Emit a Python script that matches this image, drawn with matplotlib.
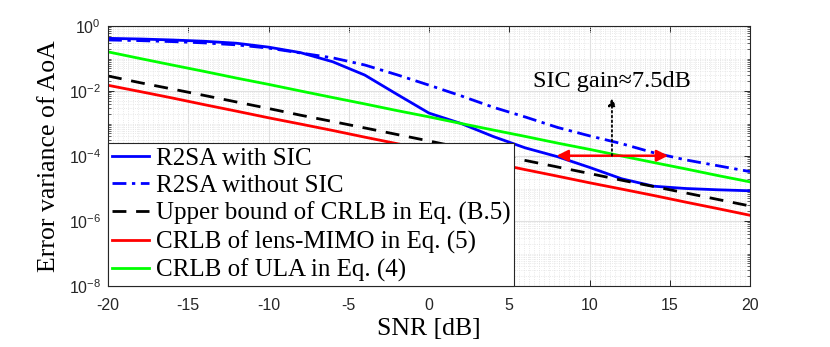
import numpy as np
import matplotlib
matplotlib.use("Agg")
import matplotlib.pyplot as plt
from matplotlib.ticker import FixedLocator, LogLocator, MultipleLocator, NullFormatter

plt.rcParams['font.family'] = 'Liberation Sans'
plt.rcParams['axes.unicode_minus'] = False

# SNR points [dB]
snr = [-20, -18, -16, -14, -12, -10, -8, -6, -4, -2, 0,
       2, 4, 6, 8, 10, 12, 14, 16, 18, 20]

# error variance (log10 values for the simulated curves)
log_sic = [-0.38, -0.40, -0.43, -0.47, -0.53, -0.65, -0.82, -1.10, -1.51, -2.10, -2.68,
           -3.00, -3.40, -3.75, -4.02, -4.35, -4.70, -4.93, -5.00, -5.04, -5.07]
log_nosic = [-0.43, -0.45, -0.48, -0.52, -0.58, -0.68, -0.83, -0.98, -1.20, -1.50, -1.82,
             -2.15, -2.50, -2.80, -3.12, -3.38, -3.62, -3.90, -4.12, -4.30, -4.48]
crlb_upper = [2.9e-2, 1.8e-2, 1.15e-2, 7.3e-3, 4.6e-3, 2.9e-3, 1.8e-3, 1.15e-3, 7.3e-4, 4.6e-4, 2.9e-4,
              1.8e-4, 1.15e-4, 7.3e-5, 4.6e-5, 2.9e-5, 1.8e-5, 1.15e-5, 7.3e-6, 4.6e-6, 2.9e-6]
crlb_lens = [1.5e-2, 9.6e-3, 6.1e-3, 3.8e-3, 2.4e-3, 1.5e-3, 9.6e-4, 6.1e-4, 3.8e-4, 2.4e-4, 1.5e-4,
             9.6e-5, 6.1e-5, 3.8e-5, 2.4e-5, 1.5e-5, 9.6e-6, 6.1e-6, 3.8e-6, 2.4e-6, 1.5e-6]
crlb_ula = [0.16, 0.10, 0.063, 0.040, 0.025, 0.016, 0.010, 6.3e-3, 4.0e-3, 2.5e-3, 1.6e-3,
            1.0e-3, 6.3e-4, 4.0e-4, 2.5e-4, 1.6e-4, 1.0e-4, 6.3e-5, 4.0e-5, 2.5e-5, 1.6e-5]

labels = ['R2SA with SIC', 'R2SA without SIC', 'Upper bound of CRLB in Eq. (B.5)',
          'CRLB of lens-MIMO in Eq. (5)', 'CRLB of ULA in Eq. (4)']

# annotation: SIC gain
gain_x0, gain_x1, gain_y = 7.95, 14.9, 1.02e-4
gain_text = 'SIC gain≈7.5dB'

fig = plt.figure(figsize=(8.3, 3.47), dpi=100)
ax = fig.add_axes([108/830, 61/347, 642/830, 260/347])

lw = 2.0
ax.plot(snr, 10**np.array(log_sic), color='#0000FF', lw=lw, label=labels[0])
ax.plot(snr, 10**np.array(log_nosic), color='#0000FF', lw=lw, ls=(0, (5, 2, 1.2, 2)), label=labels[1])
ax.plot(snr, crlb_upper, color='black', lw=lw, ls=(0, (5, 3.5)), label=labels[2])
ax.plot(snr, crlb_lens, color='#FF0000', lw=lw, label=labels[3])
ax.plot(snr, crlb_ula, color='#00FF00', lw=lw, label=labels[4])

ax.set_yscale('log')
ax.set_xlim(-20, 20)
ax.set_ylim(1e-8, 1)

ax.xaxis.set_major_locator(MultipleLocator(5))
ax.xaxis.set_minor_locator(MultipleLocator(5/16))
ax.yaxis.set_major_locator(FixedLocator([1e-8, 1e-6, 1e-4, 1e-2, 1]))
ax.yaxis.set_minor_locator(LogLocator(base=10, subs=np.arange(1, 10), numticks=30))
ax.yaxis.set_minor_formatter(NullFormatter())
ax.set_yticklabels([r'$\mathregular{10^{%d}}$' % e for e in [-8, -6, -4, -2, 0]])

ax.grid(which='major', color='#e0e0e0', lw=0.8, ls='-')
ax.grid(which='minor', color='#e2e2e2', lw=0.6, ls=':')
ax.set_axisbelow(True)
ax.tick_params(which='both', direction='in', top=True, right=True, colors='#262626',
               labelsize=11.5, labelcolor='#262626')
ax.tick_params(which='major', length=4, width=0.7)
ax.tick_params(which='minor', length=2, width=0.5)
ax.tick_params(axis='x', which='minor', length=0)
ax.tick_params(axis='x', pad=9)
ax.tick_params(axis='y', pad=5)
for s in ax.spines.values():
    s.set_color('#262626')
    s.set_linewidth(0.8)

ax.set_xlabel('SNR [dB]', family='Liberation Serif', fontsize=18.5, labelpad=3)
ax.set_ylabel('Error variance of AoA', family='Liberation Serif', fontsize=18.5, labelpad=6)

# SIC gain arrows and text
ax.annotate('', xy=(gain_x0, gain_y), xytext=(gain_x1, gain_y),
            arrowprops=dict(arrowstyle='<|-|>', color='#FF0000', lw=1.8,
                            mutation_scale=17, shrinkA=0, shrinkB=0))
ax.annotate('', xy=(11.4, 6.0e-3), xytext=(11.4, gain_y),
            arrowprops=dict(arrowstyle='-|>', color='black', lw=1.3, ls=':',
                            mutation_scale=11, shrinkA=0, shrinkB=0))
ax.text(11.4, 1.3e-2, gain_text, family='Liberation Serif', fontsize=17.5,
        ha='center', va='baseline')

leg = ax.legend(loc='lower left', bbox_to_anchor=(0, 0), borderaxespad=0,
                prop={'family': 'Liberation Serif', 'size': 18},
                handlelength=1.5, handletextpad=0.25, labelspacing=0.2,
                borderpad=0.15, fancybox=False, framealpha=1)
leg.get_frame().set_edgecolor('#262626')
leg.get_frame().set_linewidth(0.8)

fig.savefig('out.png', dpi=100)
